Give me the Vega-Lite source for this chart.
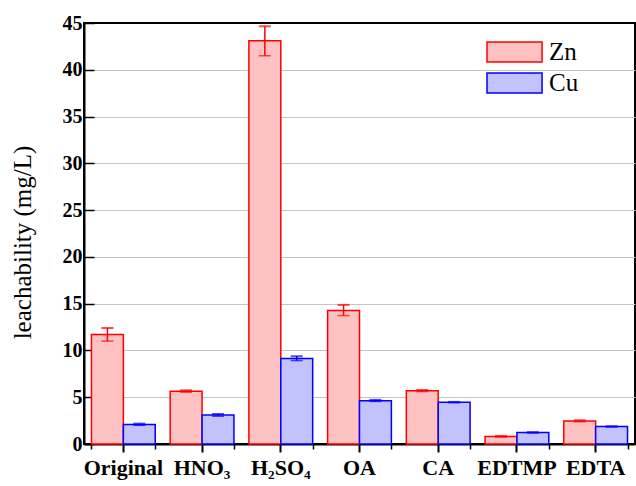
{
  "$schema": "https://vega.github.io/schema/vega-lite/v6.json",
  "width": 551,
  "height": 421,
  "autosize": {"type": "none"},
  "padding": {"left": 84, "top": 23, "right": 1, "bottom": 42},
  "background": "white",
  "config": {
    "view": {"stroke": "black", "strokeWidth": 2},
    "font": "Times New Roman"
  },
  "data": {
    "values": [
      {"treatment": "Original", "metal": "Zn", "value": 11.7, "low": 11.0, "high": 12.4},
      {"treatment": "Original", "metal": "Cu", "value": 2.08, "low": 2.0, "high": 2.18},
      {"treatment": "HNO₃", "metal": "Zn", "value": 5.64, "low": 5.54, "high": 5.74},
      {"treatment": "HNO₃", "metal": "Cu", "value": 3.09, "low": 2.97, "high": 3.21},
      {"treatment": "H₂SO₄", "metal": "Zn", "value": 43.1, "low": 41.5, "high": 44.65},
      {"treatment": "H₂SO₄", "metal": "Cu", "value": 9.15, "low": 8.92, "high": 9.38},
      {"treatment": "OA", "metal": "Zn", "value": 14.26, "low": 13.73, "high": 14.87},
      {"treatment": "OA", "metal": "Cu", "value": 4.63, "low": 4.55, "high": 4.72},
      {"treatment": "CA", "metal": "Zn", "value": 5.68, "low": 5.6, "high": 5.78},
      {"treatment": "CA", "metal": "Cu", "value": 4.45, "low": 4.41, "high": 4.5},
      {"treatment": "EDTMP", "metal": "Zn", "value": 0.8, "low": 0.74, "high": 0.86},
      {"treatment": "EDTMP", "metal": "Cu", "value": 1.22, "low": 1.17, "high": 1.27},
      {"treatment": "EDTA", "metal": "Zn", "value": 2.46, "low": 2.38, "high": 2.54},
      {"treatment": "EDTA", "metal": "Cu", "value": 1.86, "low": 1.82, "high": 1.9}
    ]
  },
  "resolve": {"axis": {"x": "independent"}},
  "layer": [
    {
      "mark": {"type": "bar", "strokeWidth": 1.5},
      "encoding": {
        "x": {
          "field": "treatment", "type": "nominal",
          "sort": ["Original", "HNO₃", "H₂SO₄", "OA", "CA", "EDTMP", "EDTA"],
          "scale": {"paddingInner": 0.19, "paddingOuter": 0.095},
          "axis": {
            "orient": "bottom", "title": null, "labelAngle": 0,
            "labelFont": "Times New Roman", "labelFontWeight": "bold", "labelFontSize": 22,
            "labelColor": "black", "labelPadding": 5,
            "domainColor": "black", "domainWidth": 2,
            "tickColor": "black", "tickWidth": 2, "tickSize": 8
          }
        },
        "xOffset": {"field": "metal", "type": "nominal", "sort": ["Zn", "Cu"], "scale": {"paddingInner": 0}},
        "y": {
          "field": "value", "type": "quantitative",
          "scale": {"domain": [0, 45], "nice": false},
          "axis": {
            "title": "leachability (mg/L)",
            "titleFont": "Times New Roman", "titleFontWeight": "normal", "titleFontSize": 25,
            "titleColor": "black", "titlePadding": 27, "titleY": 219,
            "values": [0, 2.5, 5, 7.5, 10, 12.5, 15, 17.5, 20, 22.5, 25, 27.5, 30, 32.5, 35, 37.5, 40, 42.5, 45],
            "labelExpr": "datum.value % 5 === 0 ? datum.label : ''",
            "labelFont": "Times New Roman", "labelFontWeight": "bold", "labelFontSize": 20,
            "labelColor": "black", "labelPadding": 12,
            "domainColor": "black", "domainWidth": 2,
            "tickColor": "black", "tickWidth": 1.5,
            "tickSize": {"condition": {"test": "datum.value % 5 === 0", "value": -10}, "value": -5},
            "grid": true, "gridColor": "#c4c4c4", "gridWidth": 1,
            "gridOpacity": {"condition": {"test": "datum.value % 5 === 0 && datum.value < 45 && datum.value > 0", "value": 1}, "value": 0}
          }
        },
        "fill": {
          "field": "metal", "type": "nominal",
          "scale": {"domain": ["Zn", "Cu"], "range": ["#ffc2c2", "#c2c2ff"]},
          "legend": {
            "title": null, "orient": "none", "legendX": 402, "legendY": 13,
            "symbolType": "M-1,-0.67H2.67V0.67H-1Z", "symbolSize": 900, "symbolStrokeWidth": 1.5,
            "labelFont": "Times New Roman", "labelFontSize": 25, "labelColor": "black",
            "labelOffset": 31, "rowPadding": 1, "padding": 0
          }
        },
        "stroke": {
          "field": "metal", "type": "nominal",
          "scale": {"domain": ["Zn", "Cu"], "range": ["#ff0000", "#0000ff"]}
        }
      }
    },
    {
      "mark": {"type": "rule", "strokeWidth": 1.5},
      "encoding": {
        "x": {
          "field": "treatment", "type": "nominal",
          "sort": ["Original", "HNO₃", "H₂SO₄", "OA", "CA", "EDTMP", "EDTA"],
          "axis": {
            "orient": "bottom", "title": null, "labels": false, "domain": false,
            "tickBand": "extent", "tickColor": "black", "tickWidth": 1.5, "tickSize": 5
          }
        },
        "xOffset": {"field": "metal", "type": "nominal", "sort": ["Zn", "Cu"]},
        "y": {"field": "low", "type": "quantitative"},
        "y2": {"field": "high"},
        "stroke": {"field": "metal", "type": "nominal", "legend": null}
      }
    },
    {
      "mark": {"type": "tick", "thickness": 2, "size": 12},
      "encoding": {
        "x": {"field": "treatment", "type": "nominal", "sort": ["Original", "HNO₃", "H₂SO₄", "OA", "CA", "EDTMP", "EDTA"], "axis": null},
        "xOffset": {"field": "metal", "type": "nominal", "sort": ["Zn", "Cu"]},
        "y": {"field": "high", "type": "quantitative"},
        "color": {"field": "metal", "type": "nominal", "scale": {"domain": ["Zn", "Cu"], "range": ["#ff0000", "#0000ff"]}, "legend": null}
      }
    },
    {
      "mark": {"type": "tick", "thickness": 1.5, "size": 12},
      "encoding": {
        "x": {"field": "treatment", "type": "nominal", "sort": ["Original", "HNO₃", "H₂SO₄", "OA", "CA", "EDTMP", "EDTA"], "axis": null},
        "xOffset": {"field": "metal", "type": "nominal", "sort": ["Zn", "Cu"]},
        "y": {"field": "low", "type": "quantitative"},
        "color": {"field": "metal", "type": "nominal", "scale": {"domain": ["Zn", "Cu"], "range": ["#ff0000", "#0000ff"]}, "legend": null}
      }
    }
  ]
}
